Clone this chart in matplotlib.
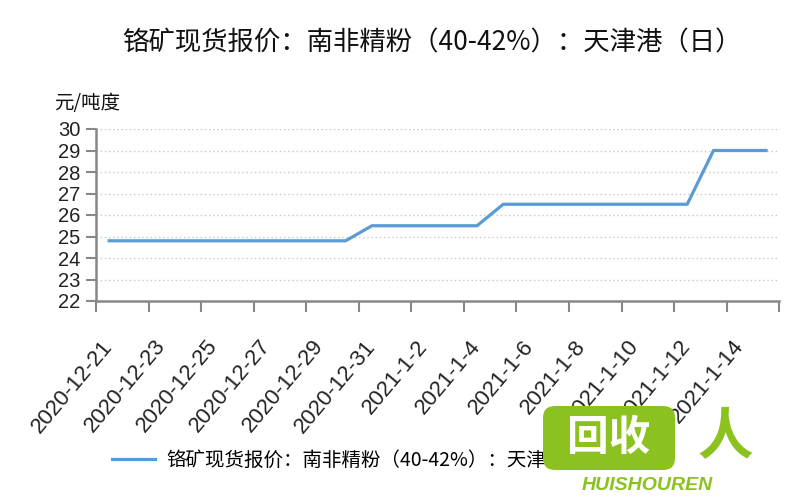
import matplotlib
matplotlib.use("Agg")
import matplotlib.pyplot as plt
from matplotlib.patches import FancyBboxPatch
import numpy as np

# 数据
dates = ["2020-12-21", "2020-12-22", "2020-12-23", "2020-12-24", "2020-12-25",
         "2020-12-26", "2020-12-27", "2020-12-28", "2020-12-29", "2020-12-30",
         "2020-12-31", "2021-1-1", "2021-1-2", "2021-1-3", "2021-1-4",
         "2021-1-5", "2021-1-6", "2021-1-7", "2021-1-8", "2021-1-9",
         "2021-1-10", "2021-1-11", "2021-1-12", "2021-1-13", "2021-1-14",
         "2021-1-15"]
prices = [24.8, 24.8, 24.8, 24.8, 24.8, 24.8, 24.8, 24.8, 24.8, 24.8,
          25.5, 25.5, 25.5, 25.5, 25.5,
          26.5, 26.5, 26.5, 26.5, 26.5, 26.5, 26.5, 26.5,
          29, 29, 29]
y_ticks = [22, 23, 24, 25, 26, 27, 28, 29, 30]

title = "铬矿现货报价：南非精粉（40-42%）：天津港（日）"
series_name = "铬矿现货报价：南非精粉（40-42%）：天津港"
unit = "元/吨度"

cjk = ["Noto Sans CJK SC", "DejaVu Sans"]
num = ["Liberation Sans", "DejaVu Sans"]

fig = plt.figure(figsize=(8, 5), dpi=100)
ax = fig.add_axes([0.12, 0.398, 0.854, 0.344])

x = np.arange(len(dates))
line, = ax.plot(x, prices, color="#5B9BD5", linewidth=2.3, label=series_name)

ax.set_xlim(-0.5, len(dates) - 0.5)
ax.set_ylim(22, 30)
ax.set_yticks(y_ticks)
ax.set_yticklabels([str(v) for v in y_ticks], family=num, fontsize=14.5, color="#222222")
ax.tick_params(axis="y", length=7, width=1.5, color="#888888", pad=4)

# 刻度线在类别之间, 标签每隔两天
ax.set_xticks(np.arange(-0.5, len(dates), 2))
ax.set_xticklabels([])
ax.tick_params(axis="x", which="major", length=8, width=1.5, color="#888888")
ax.set_xticks(x[::2], minor=True)
ax.set_xticklabels(dates[::2], minor=True, rotation=50, ha="right", va="center",
                   rotation_mode="anchor", family=num, fontsize=16, color="#222222")
ax.tick_params(axis="x", which="minor", length=0, pad=30)

ax.grid(axis="y", linestyle=(0, (1, 2)), color="#c8c8c8", linewidth=1)
for s in ["top", "right"]:
    ax.spines[s].set_visible(False)
for s in ["left", "bottom"]:
    ax.spines[s].set_color("#888888")
    ax.spines[s].set_linewidth(1.8)

fig.text(0.54, 0.914, title, family=cjk, fontsize=19, ha="center", va="center", color="#111111")
fig.text(0.068, 0.792, unit, family=cjk, fontsize=14, ha="left", va="center", color="#111111")

fig.legend(handles=[line], loc="center left", bbox_to_anchor=(0.118, 0.08),
           frameon=False, prop={"family": cjk, "size": 14},
           handlelength=2.2, handletextpad=0.6)

# 水印
box = FancyBboxPatch((543, 30), 132, 64, boxstyle="round,pad=0,rounding_size=12",
                     transform=None, facecolor="#8CC21F", edgecolor="none", zorder=10)
fig.patches.append(box)
fig.text(609 / 800, 62 / 500, "回收", family=cjk, fontsize=30, fontweight="bold",
         color="white", ha="center", va="center", zorder=11)
fig.text(647 / 800, 14 / 500, "HUISHOUREN", family=num, fontsize=14, fontweight="bold",
         fontstyle="italic", color="#8CC21F", ha="center", va="center", zorder=11)
fig.text(725 / 800, 62 / 500, "人", family=cjk, fontsize=40, fontweight="bold",
         color="#8CC21F", ha="center", va="center", zorder=11)

fig.savefig("out.png", dpi=100)
